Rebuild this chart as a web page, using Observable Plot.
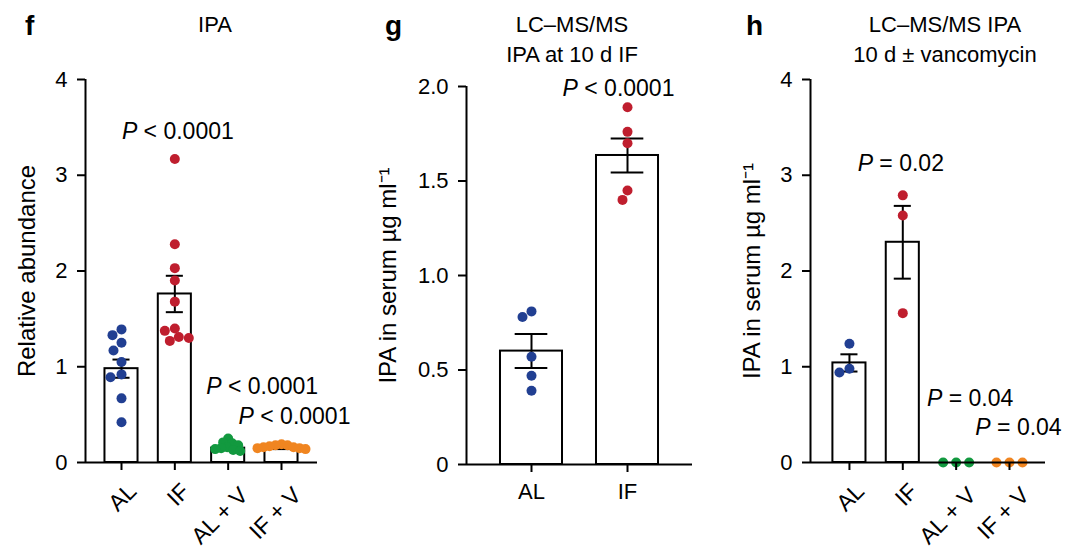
<!DOCTYPE html>
<html><head><meta charset="utf-8">
<script src="https://cdn.jsdelivr.net/npm/d3@7"></script>
<script src="https://cdn.jsdelivr.net/npm/@observablehq/plot@0.6"></script>
<style>
body{margin:0;background:#fff;}
#wrap{position:relative;width:1080px;height:557px;font-family:"Liberation Sans",Arial,sans-serif;color:#000;overflow:hidden;}
.panel{position:absolute;top:0;}
.letter{position:absolute;font-weight:bold;font-size:28px;line-height:28px;}
.title{position:absolute;font-size:22px;line-height:30px;text-align:center;width:300px;white-space:nowrap;}
</style></head><body><div id="wrap"></div>
<script>
// ---------- data ----------
// panel f : IPA relative abundance
const fCategories = ["AL", "IF", "AL + V", "IF + V"];
const fAL  = [1.39, 1.33, 1.25, 1.17, 1.05, 0.92, 0.89, 0.67, 0.42];
const fIF  = [3.17, 2.28, 2.03, 1.90, 1.68, 1.40, 1.375, 1.31, 1.30, 1.27];
const fALV = [0.25, 0.21, 0.20, 0.18, 0.16, 0.15, 0.14, 0.13, 0.12];
const fIFV = [0.19, 0.18, 0.18, 0.17, 0.16, 0.16, 0.15, 0.15, 0.14];
const fMean = [0.98, 1.76, 0.15, 0.15];
const fSEM  = [0.095, 0.19, 0.01, 0.01];
const fP = ["", "P < 0.0001", "P < 0.0001", "P < 0.0001"];
const fTicks = [0, 1, 2, 3, 4];

// panel g : LC–MS/MS IPA at 10 d IF
const gCategories = ["AL", "IF"];
const gAL = [0.81, 0.78, 0.57, 0.47, 0.39];
const gIF = [1.89, 1.76, 1.70, 1.45, 1.40];
const gMean = [0.60, 1.635];
const gSEM  = [0.09, 0.09];
const gP = ["", "P < 0.0001"];
const gTicks = [0, 0.5, 1.0, 1.5, 2.0];

// panel h : LC–MS/MS IPA 10 d ± vancomycin
const hCategories = ["AL", "IF", "AL + V", "IF + V"];
const hAL  = [1.24, 0.98, 0.94];
const hIF  = [2.79, 2.58, 1.56];
const hALV = [0, 0, 0];
const hIFV = [0, 0, 0];
const hMean = [1.04, 2.30, 0, 0];
const hSEM  = [0.09, 0.38, 0, 0];
const hP = ["", "P = 0.02", "P = 0.04", "P = 0.04"];
const hTicks = [0, 1, 2, 3, 4];

const groupColors = ["#213f92", "#bf1e2e", "#12993f", "#f08520"];

// ---------- helpers ----------
function swarm(values, pxPerY, minGap) {
  const placed = [], out = [];
  values.forEach((v, i) => {
    const y = v * pxPerY;
    let chosen = 0;
    outer: for (let k = 0; k < 80; k++) {
      const cands = k === 0 ? [0] : [-k, k];
      for (const x of cands) {
        if (placed.every(p => Math.hypot(p.x - x, p.y - y) >= minGap)) { chosen = x; break outer; }
      }
    }
    placed.push({x: chosen, y});
    out.push(chosen);
  });
  return out;
}

const FONT = "Liberation Sans, Arial, sans-serif";

function panel(cfg) {
  const {left, width, height, ml, mr, mt, mb, cats, groups, means, sems, pvals,
         xDomain, yDomain, yTicks, yFmt, rotate, barHalf, capHalf, ylabel, ylabelDx,
         pOffsets, gaps} = cfg;
  const pxPerX = (width - ml - mr) / (xDomain[1] - xDomain[0]);
  const pxPerY = (height - mt - mb) / (yDomain[1] - yDomain[0]);
  const rows = cats.map((c, i) => ({i, cat: c, mean: means[i], sem: sems[i], max: d3.max(groups[i]), p: pvals[i]}));
  const points = [];
  groups.forEach((vals, i) => {
    const offs = swarm(vals, pxPerY, gaps[i]);
    vals.forEach((v, j) => points.push({i, v, x: i + offs[j] / pxPerX}));
  });
  const errRows = rows.filter(d => d.sem > 0);
  const idx = d3.range(cats.length);
  const xAxes = rotate
    ? [
        Plot.axisX({ticks: idx, tickFormat: () => "", tickSize: 8, strokeWidth: 2, label: null}),
        Plot.axisX({ticks: idx.filter(i => cats[i].length <= 3), tickFormat: i => cats[i], tickSize: 0, tickPadding: 14,
                    tickRotate: rotate, fontSize: 23, label: null, dx: 11, dy: 11}),
        Plot.axisX({ticks: idx.filter(i => cats[i].length > 3), tickFormat: i => cats[i], tickSize: 0, tickPadding: 14,
                    tickRotate: rotate, fontSize: 23, label: null, dx: 16, dy: 15})
      ]
    : [Plot.axisX({ticks: idx, tickFormat: i => cats[i], tickSize: 8, tickPadding: 11, strokeWidth: 2, fontSize: 22, label: null})];
  const marks = [
    Plot.rect(rows, {x1: d => d.i - barHalf, x2: d => d.i + barHalf, y1: 0, y2: "mean", fill: "white", stroke: "black", strokeWidth: 2}),
    Plot.ruleX(errRows, {x: "i", y1: d => d.mean - d.sem, y2: d => d.mean + d.sem, stroke: "black", strokeWidth: 2}),
    Plot.ruleY(errRows, {y: d => d.mean + d.sem, x1: d => d.i - capHalf, x2: d => d.i + capHalf, stroke: "black", strokeWidth: 2}),
    Plot.ruleY(errRows, {y: d => d.mean - d.sem, x1: d => d.i - capHalf, x2: d => d.i + capHalf, stroke: "black", strokeWidth: 2}),
    ...cats.map((c, i) => Plot.dot(points.filter(p => p.i === i), {x: "x", y: "v", r: 5, fill: groupColors[i]})),
    Plot.ruleX([xDomain[0]], {stroke: "black", strokeWidth: 2}),
    Plot.ruleY([0], {stroke: "black", strokeWidth: 2}),
    Plot.axisY({ticks: yTicks, tickFormat: yFmt, tickSize: 8, tickPadding: 10, strokeWidth: 2, fontSize: 22, label: null}),
    ...xAxes,
    Plot.text([ylabel], {frameAnchor: "left", textAnchor: "middle", rotate: -90, dx: ylabelDx, fontSize: 24}),
    ...rows.filter(d => d.p).map(d => Plot.text([d], {x: "i", y: "max", text: "p", dx: pOffsets[d.i][0], dy: pOffsets[d.i][1], fontSize: 23}))
  ];
  const svg = Plot.plot({
    width, height, marginLeft: ml, marginRight: mr, marginTop: mt, marginBottom: mb,
    x: {type: "linear", domain: xDomain},
    y: {type: "linear", domain: yDomain},
    style: {fontFamily: FONT, fontSize: "22px", color: "black", background: "white", overflow: "visible"},
    marks
  });
  // italic P in the P-value annotations
  const ns = "http://www.w3.org/2000/svg";
  svg.querySelectorAll("text").forEach(el => {
    const s = el.textContent;
    if (!/^P [<=]/.test(s)) return;
    el.textContent = "";
    const t1 = document.createElementNS(ns, "tspan");
    t1.setAttribute("font-style", "italic");
    t1.textContent = "P";
    const t2 = document.createElementNS(ns, "tspan");
    t2.textContent = s.slice(1);
    el.appendChild(t1); el.appendChild(t2);
  });
  const div = document.createElement("div");
  div.className = "panel";
  div.style.left = left + "px";
  div.appendChild(svg);
  document.getElementById("wrap").appendChild(div);
}

function label(cls, text, x, y, center) {
  const d = document.createElement("div");
  d.className = cls;
  d.innerHTML = text;
  d.style.top = y + "px";
  d.style.left = (center ? x - 150 : x) + "px";
  document.getElementById("wrap").appendChild(d);
}

panel({left: 0, width: 360, height: 557, ml: 85, mr: 43, mt: 79, mb: 95,
  cats: fCategories, groups: [fAL, fIF, fALV, fIFV], means: fMean, sems: fSEM, pvals: fP,
  xDomain: [-0.675, 3.675], yDomain: [0, 4], yTicks: fTicks, yFmt: d3.format("d"), rotate: -45,
  barHalf: 0.31, capHalf: 0.16, ylabel: "Relative abundance", ylabelDx: -58,
  pOffsets: {1: [3, -27], 2: [34, -52], 3: [13, -28]}, gaps: [10.5, 9.5, 6, 6]});

panel({left: 360, width: 360, height: 557, ml: 106, mr: 28, mt: 86, mb: 93,
  cats: gCategories, groups: [gAL, gIF], means: gMean, sems: gSEM, pvals: gP,
  xDomain: [-0.677, 1.677], yDomain: [0, 2], yTicks: gTicks, yFmt: d => d === 0 ? "0" : d3.format(".1f")(d), rotate: 0,
  barHalf: 0.323, capHalf: 0.17, ylabel: "IPA in serum µg ml⁻¹", ylabelDx: -78,
  pOffsets: {1: [-9, -19]}, gaps: [10.5, 10.5]});

panel({left: 720, width: 360, height: 557, ml: 90, mr: 35, mt: 79, mb: 95,
  cats: hCategories, groups: [hAL, hIF, hALV, hIFV], means: hMean, sems: hSEM, pvals: hP,
  xDomain: [-0.73, 3.675], yDomain: [0, 4], yTicks: hTicks, yFmt: d3.format("d"), rotate: -45,
  barHalf: 0.31, capHalf: 0.16, ylabel: "IPA in serum µg ml⁻¹", ylabelDx: -58,
  pOffsets: {1: [-2, -32], 2: [14, -64], 3: [9, -35]}, gaps: [10.5, 10.5, 12.5, 12.5]});

// titles
label("letter", "f", 25, 12, false);
label("letter", "g", 385, 12, false);
label("letter", "h", 746, 12, false);
label("title", "IPA", 215, 10, true);
label("title", "LC–MS/MS<br>IPA at 10 d IF", 572, 10, true);
label("title", "LC–MS/MS IPA<br>10 d ± vancomycin", 945, 10, true);
</script></body></html>
